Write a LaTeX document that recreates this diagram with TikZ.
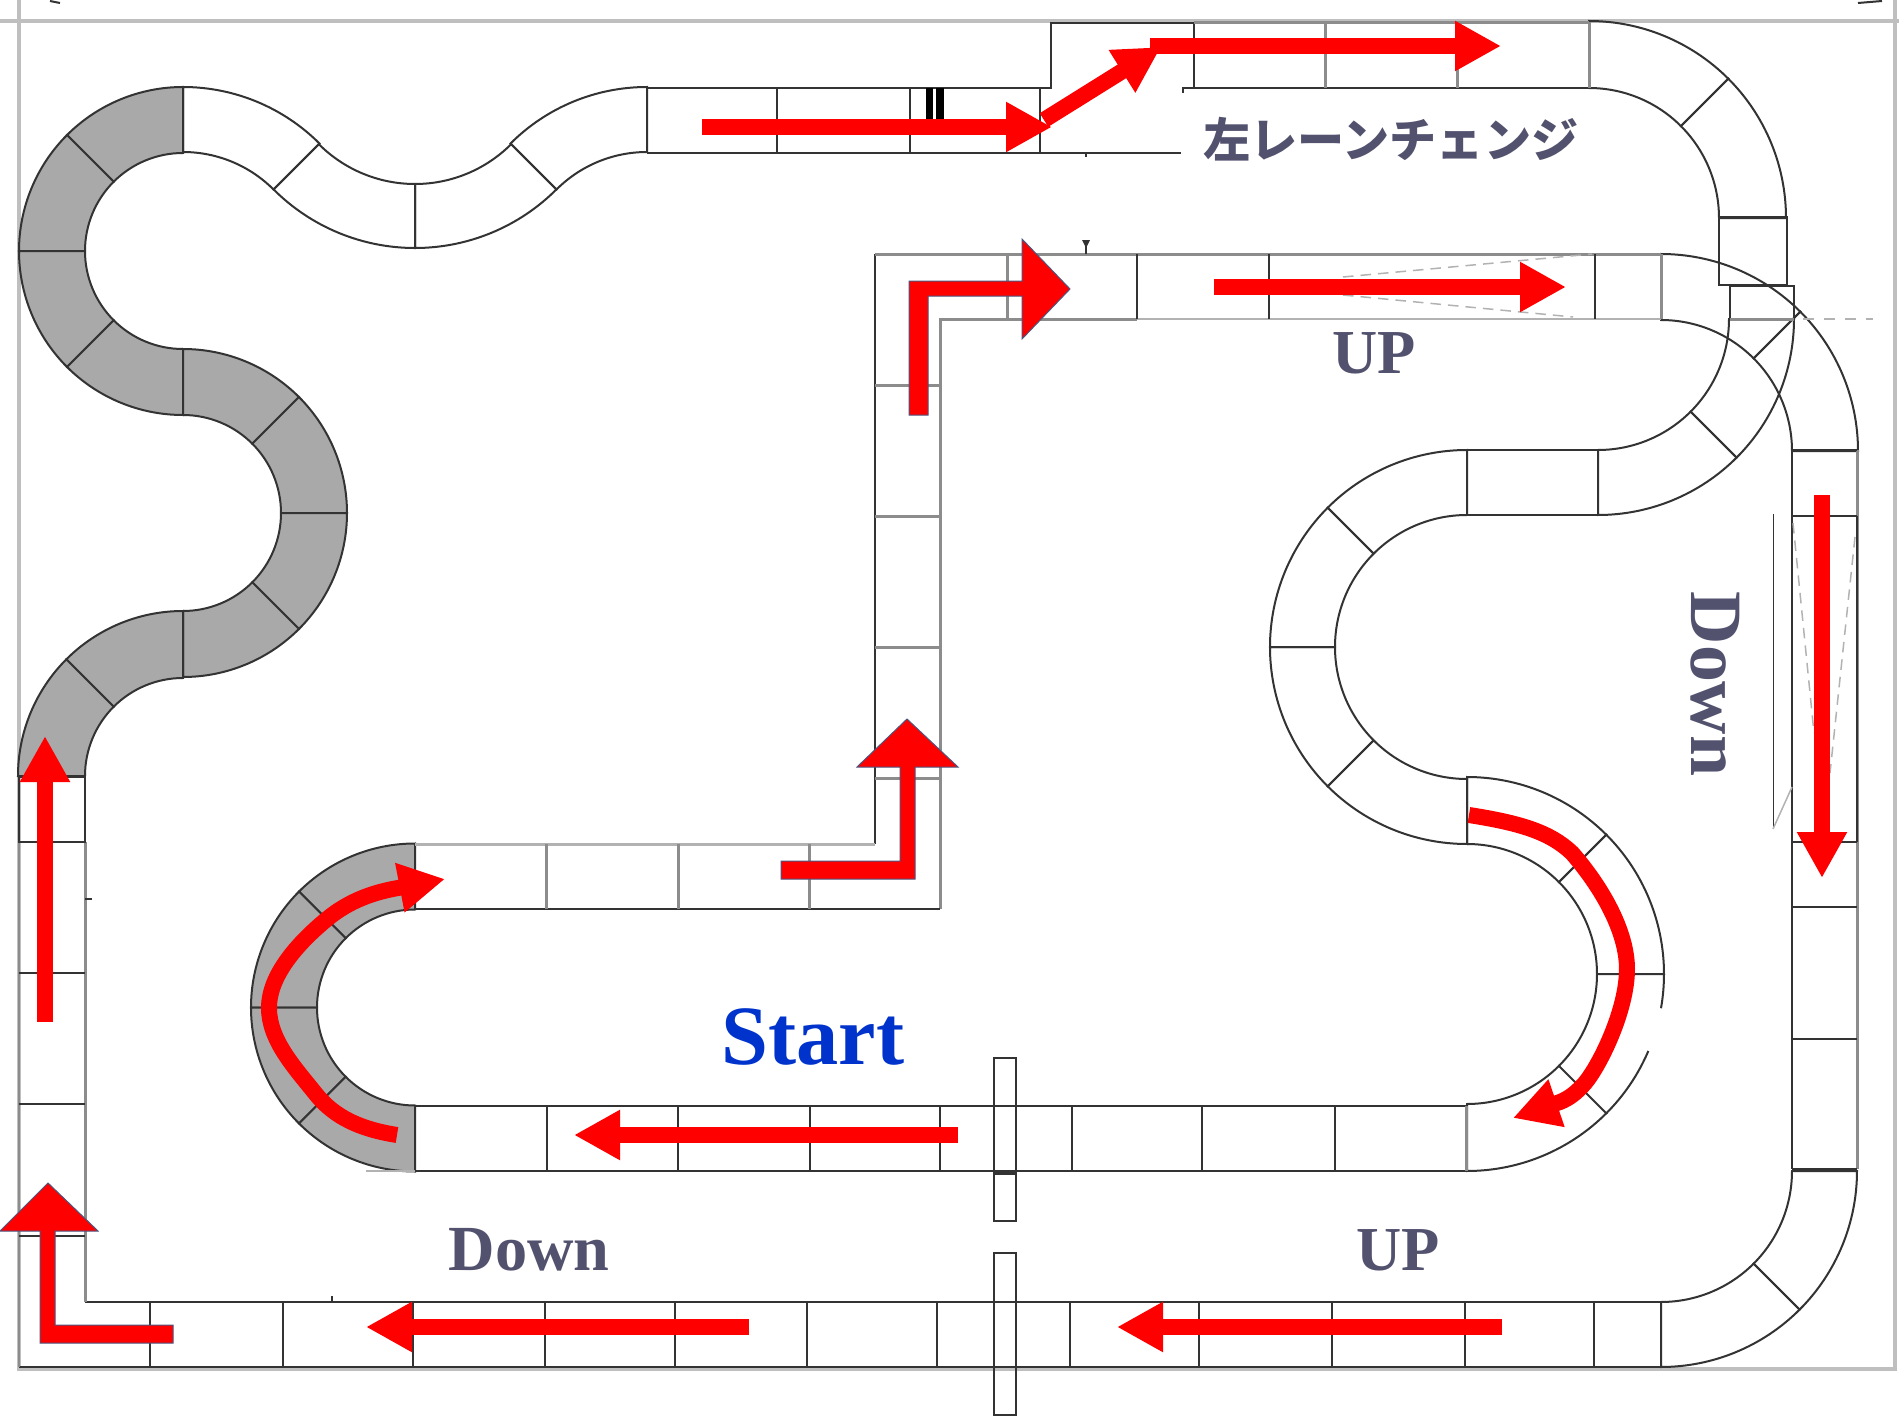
\documentclass[tikz,border=0pt]{standalone}
\usepackage{fontspec}
\setmainfont{Liberation Serif}
\newfontfamily\jpfont{Noto Sans CJK JP}
\usetikzlibrary{arrows.meta}
\definecolor{labelgrey}{HTML}{52526F}
\definecolor{startblue}{HTML}{0033CC}
\definecolor{roadgrey}{HTML}{A9A9A9}
\definecolor{edgeblue}{HTML}{4A5580}
\tikzset{
  frameline/.style={draw=black!25,line width=0.4mm},
  roadline/.style={draw=black!80,line width=0.2mm},
  softline/.style={draw=black!45,line width=0.3mm},
  faintline/.style={draw=black!30,line width=0.15mm},
  redarrow/.style={draw=red,line width=1.6mm,-{Triangle[length=4.6mm,width=4.7mm]}},
  bentarrow/.style={fill=red,draw=edgeblue,line width=0.1mm},
  slabel/.style={font=\bfseries,text=labelgrey,inner sep=0pt,anchor=base}
}
% one bend piece: cx, cy, inner r, outer r, start, end, style
\newcommand{\bendpiece}[7]{%
  \path[#7] ([shift={(#5:#4)}]#1,#2) arc[start angle=#5,end angle=#6,radius=#4]
    -- ([shift={(#6:#3)}]#1,#2) arc[start angle=#6,end angle=#5,radius=#3] -- cycle;}
\begin{document}
\begin{tikzpicture}[x=0.1mm,y=0.1mm]
  \useasboundingbox (0,0) rectangle (1899,-1416);
  % frame of the sheet
  \draw[frameline] (0,-21) -- (1899,-21);
  \draw[frameline] (19,0) -- (19,-1369) -- (1895,-1369) -- (1895,0);
  \draw[roadline] (50,-1) -- (60,-3);
  \draw[roadline] (1858,-3) -- (1882,-1);
  % grey bends
  \foreach \cx/\cy/\ri/\ro/\sa/\ea in {
      183/-251/98/164/90/135,183/-251/98/164/135/180,183/-251/98/164/180/225,183/-251/98/164/225/270,
      183/-513/98/164/90/45,183/-513/98/164/45/0,183/-513/98/164/0/-45,183/-513/98/164/-45/-90,
      183/-776/98/165/90/135,183/-776/98/165/135/180,
      415/-1007.5/98/164/90/135,415/-1007.5/98/164/135/180,415/-1007.5/98/164/180/225,415/-1007.5/98/164/225/270}
    {\bendpiece{\cx}{\cy}{\ri}{\ro}{\sa}{\ea}{roadline,fill=roadgrey}}
  % white bends
  \foreach \cx/\cy/\ri/\ro/\sa/\ea in {
      183/-280/128/193/90/45,415/-48/136/200/225/270,415/-48/136/200/270/315,647/-280/128/193/135/90,
      1589/-218/130/197/90/45,1589/-218/130/197/45/0,
      1598/-319/131/196/0/-45,1598/-319/131/196/-45/-90,
      1661/-451/131/197/90/45,1661/-451/131/197/45/0,
      1467/-647/132/197/90/135,1467/-647/132/197/135/180,1467/-647/132/197/180/225,1467/-647/132/197/225/270,
      1467/-974/130/197/90/45,1467/-974/130/197/45/0,1467/-974/130/197/-45/-90,
      1661/-1171/131/196/0/-45,1661/-1171/131/196/-45/-90}
    {\bendpiece{\cx}{\cy}{\ri}{\ro}{\sa}{\ea}{roadline}}
  % piece with the gap in its outer edge
  \draw[roadline] (1467,-974) ++(0:130) arc[start angle=0,end angle=-45,radius=130];
  \draw[roadline] (1467,-974) ++(0:197) arc[start angle=0,end angle=-10,radius=197];
  \draw[roadline] (1467,-974) ++(-23:197) arc[start angle=-23,end angle=-45,radius=197];
  % straight between the two bends on the right
  \draw[roadline] (1467,-450) rectangle (1598,-515);
  % top row and lane change
  \draw[roadline] (647,-88) -- (1051,-88) -- (1051,-23) -- (1194,-23) -- (1194,-88) -- (1183,-88) -- (1183,-93);
  \draw[roadline] (647,-153) -- (1181,-153);
  \draw[roadline] (1086,-153) -- (1086,-157);
  \foreach \xx in {647,777,910,1040} {\draw[roadline] (\xx,-88) -- (\xx,-153);}
  \fill[black] (926,-88) rectangle (933,-125);
  \fill[black] (936,-88) rectangle (944,-125);
  \draw[softline] (1194,-22) -- (1589,-22);
  \draw[roadline] (1194,-88) -- (1589,-88);
  \foreach \xx in {1325,1457,1589} {\draw[softline] (\xx,-22) -- (\xx,-88);}
  % boxes at the crossing
  \draw[roadline] (1719,-217) rectangle (1787,-285);
  \draw[roadline] (1730,-319) -- (1730,-286) -- (1794,-286) -- (1794,-319);
  \draw[softline] (1730,-319) -- (1794,-319);
  \draw[faintline,dashed] (1803,-319) -- (1873,-319);
  % second row, vertical part
  \draw[roadline] (875,-844) -- (875,-254);
  \draw[softline] (875,-254) -- (1661,-254);
  \draw[softline] (940,-909) -- (940,-319) -- (1137,-319);
  \draw[faintline] (1137,-319) -- (1661,-319);
  \foreach \yy in {-385,-516,-647,-778} {\draw[softline] (875,\yy) -- (940,\yy);}
  \foreach \xx in {1007,1661} {\draw[softline] (\xx,-254) -- (\xx,-319);}
  \foreach \xx in {1137,1269,1595} {\draw[roadline] (\xx,-254) -- (\xx,-319);}
  \draw[roadline] (1086,-254) -- (1086,-240);
  \fill[black!80] (1082,-240) -- (1090,-240) -- (1086,-248) -- cycle;
  \draw[faintline,densely dashed] (1343,-277) -- (1592,-254);
  \draw[faintline,densely dashed] (1343,-295) -- (1573,-317);
  % rows at the start
  \draw[faintline,line width=0.3mm] (415,-844) -- (875,-844);
  \draw[roadline] (415,-909) -- (940,-909);
  \foreach \xx in {546,678,809} {\draw[softline] (\xx,-844) -- (\xx,-909);}
  \draw[roadline] (415,-1106) -- (1466,-1106);
  \draw[roadline] (415,-1171) -- (1466,-1171);
  \draw[faintline] (366,-1171) -- (415,-1171);
  \foreach \xx in {547,678,810,940,1072,1202,1335} {\draw[roadline] (\xx,-1106) -- (\xx,-1171);}
  \draw[softline] (1466,-1106) -- (1466,-1171);
  \draw[roadline] (994,-1058) rectangle (1016,-1221);
  \draw[roadline,line width=0.4mm] (994,-1173) -- (1016,-1173);
  % bottom row
  \draw[roadline] (85,-1302) -- (1661,-1302);
  \draw[roadline] (19,-1367) -- (1661,-1367);
  \foreach \xx in {150,283,413,545,675,807,937,1070,1199,1332,1465,1594,1661} {\draw[roadline] (\xx,-1302) -- (\xx,-1367);}
  \draw[roadline] (332,-1296) -- (332,-1302);
  \draw[roadline] (994,-1253) rectangle (1016,-1415);
  % left column
  \draw[softline] (19,-842) -- (19,-1367);
  \draw[softline] (85,-842) -- (85,-1302);
  \draw[roadline] (19,-777) rectangle (85,-842);
  \foreach \yy in {-973,-1104,-1236} {\draw[roadline] (19,\yy) -- (85,\yy);}
  \draw[roadline] (85,-899) -- (92,-899);
  % right column
  \draw[roadline] (1792,-450) -- (1792,-1169);
  \draw[softline] (1857,-450) -- (1857,-1169);
  \foreach \yy in {-450,-516,-842,-907,-1039,-1169} {\draw[roadline] (1792,\yy) -- (1857,\yy);}
  \draw[roadline] (1857,-516) -- (1857,-842);
  \draw[roadline,line width=0.1mm] (1773,-514) -- (1773,-829);
  \draw[faintline] (1773,-829) -- (1792,-787);
  \draw[faintline,densely dashed] (1793,-523) -- (1814,-733);
  \draw[faintline,densely dashed] (1855,-537) -- (1830,-773);
  % red arrows
  \draw[redarrow] (702,-127) -- (1052,-127);
  \draw[redarrow] (1044,-120) -- (1161,-47);
  \draw[redarrow] (1150,-46) -- (1501,-46);
  \draw[redarrow] (1214,-287) -- (1566,-287);
  \draw[redarrow] (1822,-495) -- (1822,-878);
  \draw[redarrow] (1502,-1327) -- (1117,-1327);
  \draw[redarrow] (749,-1327) -- (366,-1327);
  \draw[redarrow] (958,-1135) -- (574,-1135);
  \draw[redarrow] (45,-1022) -- (45,-736);
  \draw[redarrow] (397,-1135) .. controls (352,-1128) and (330,-1112) .. (315,-1093)
    .. controls (295,-1068) and (269,-1040) .. (269,-1008)
    .. controls (269,-975) and (298,-943) .. (327,-919)
    .. controls (350,-900) and (375,-892) .. (398,-888) -- (445,-879);
  \draw[redarrow] (1469,-815) .. controls (1520,-823) and (1550,-832) .. (1572,-853)
    .. controls (1600,-885) and (1627,-930) .. (1627,-969)
    .. controls (1627,-1010) and (1600,-1065) .. (1585,-1083)
    .. controls (1577,-1092) and (1570,-1098) .. (1560,-1102) -- (1513,-1118);
  \filldraw[bentarrow] (909,-415) -- (909,-281) -- (1022,-281) -- (1022,-239) -- (1070,-289)
    -- (1022,-339) -- (1022,-296) -- (928,-296) -- (928,-415) -- cycle;
  \filldraw[bentarrow] (781,-861) -- (900,-861) -- (900,-767) -- (857,-767) -- (907,-719)
    -- (958,-767) -- (915,-767) -- (915,-879) -- (781,-879) -- cycle;
  \filldraw[bentarrow] (173,-1325) -- (55,-1325) -- (55,-1231) -- (98,-1231) -- (48,-1183)
    -- (0,-1231) -- (40,-1231) -- (40,-1343) -- (173,-1343) -- cycle;
  % labels
  \node[slabel,font=\bfseries\fontsize{18.3}{20}\selectfont] (downleft) at (529,-1270) {Down};
  \node[slabel,font=\bfseries\fontsize{17.8}{20}\selectfont] (upright) at (1398,-1270) {UP};
  \node[slabel,font=\bfseries\fontsize{17.8}{20}\selectfont] (uptop) at (1374,-373) {UP};
  \node[slabel,font=\bfseries\fontsize{21}{22}\selectfont,rotate=-90] (downright) at (1691,-684) {Down};
  \node[slabel,font=\bfseries\fontsize{24}{26}\selectfont,text=startblue] (startlabel) at (813,-1064) {Start};
  \node[font=\jpfont\bfseries\fontsize{13.4}{15}\selectfont,text=labelgrey,inner sep=0pt] (lanechange) at (1391,-139.5) {左レーンチェンジ};
\end{tikzpicture}
\end{document}
